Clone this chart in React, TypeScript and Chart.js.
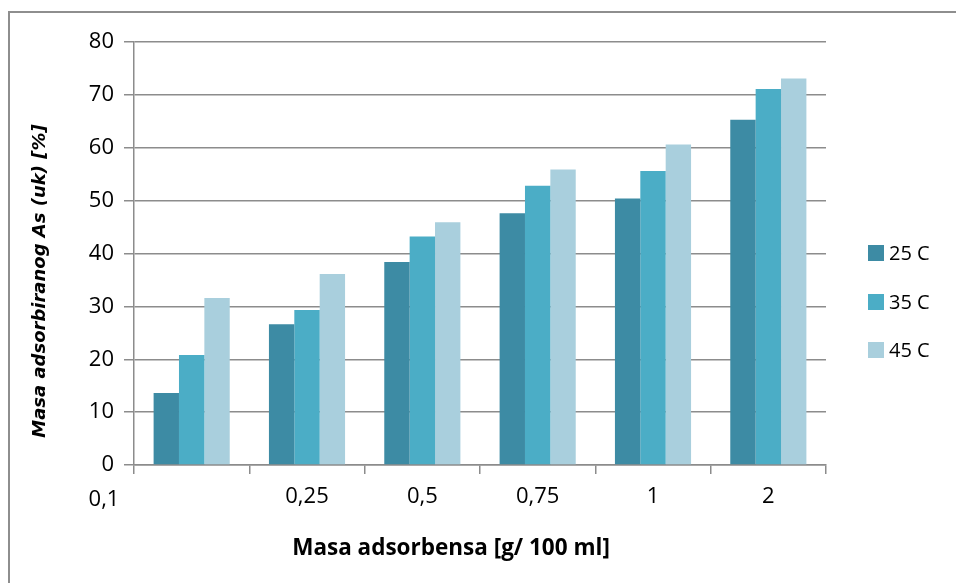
import React, { useEffect, useRef } from "react";
import { Chart, registerables } from "chart.js";

Chart.register(...registerables);

const categories = ["0,1", "0,25", "0,5", "0,75", "1", "2"];
const seriesNames = ["25 C", "35 C", "45 C"];
const values25 = [13.6, 26.6, 38.4, 47.6, 50.4, 65.3];
const values35 = [20.8, 29.3, 43.2, 52.8, 55.6, 71.1];
const values45 = [31.6, 36.1, 45.9, 55.9, 60.6, 73.1];
const seriesColors = ["#3d8ba4", "#4badc6", "#a9cfdd"];
const yMin = 0;
const yMax = 80;
const yStep = 10;
const xTitle = "Masa adsorbensa [g/ 100 ml]";
const yTitle = "Masa adsorbiranog As (uk) [%]";

const FONT = "'Open Sans', Lato, sans-serif";
const GRID = "#8c8c8c";

export default function App() {
  const ref = useRef<HTMLCanvasElement | null>(null);

  useEffect(() => {
    if (!ref.current) return;
    const decor = {
      id: "decor",
      beforeDraw(chart: any) {
        const ctx = chart.ctx;
        ctx.save();
        ctx.fillStyle = "#ffffff";
        ctx.fillRect(0, 0, chart.width, chart.height);
        ctx.strokeStyle = "#8e8e8e";
        ctx.lineWidth = 2;
        ctx.beginPath();
        ctx.moveTo(9, chart.height);
        ctx.lineTo(9, 12);
        ctx.lineTo(chart.width, 12);
        ctx.stroke();
        ctx.restore();
      },
      afterDraw(chart: any) {
        const ctx = chart.ctx;
        const area = chart.chartArea;
        const xs = chart.scales.x;
        ctx.save();
        // first category label sits left of the axis origin
        ctx.fillStyle = "#000";
        ctx.font = `22px ${FONT}`;
        ctx.textAlign = "center";
        ctx.textBaseline = "middle";
        ctx.fillText(categories[0], xs.left - 30, 500);
        // x title
        ctx.font = `bold 22.5px ${FONT}`;
        ctx.fillText(xTitle, (area.left + area.right) / 2 - 29, 549);
        // y title
        ctx.save();
        ctx.translate(40, 281);
        ctx.rotate(-Math.PI / 2);
        ctx.font = `oblique bold 18px 'DejaVu Sans', sans-serif`;
        ctx.fillText(yTitle, 0, 0);
        ctx.restore();
        // legend
        const rows = [253, 302, 350];
        ctx.font = `20px ${FONT}`;
        ctx.textAlign = "left";
        seriesNames.forEach((name, i) => {
          ctx.fillStyle = seriesColors[i];
          ctx.fillRect(868, rows[i] - 8, 16, 16);
          ctx.fillStyle = "#000";
          ctx.fillText(name, 889, rows[i] + 1);
        });
        ctx.restore();
      },
    };

    const chart = new Chart(ref.current, {
      type: "bar",
      data: {
        labels: categories,
        datasets: [
          { label: seriesNames[0], data: values25, backgroundColor: seriesColors[0] },
          { label: seriesNames[1], data: values35, backgroundColor: seriesColors[1] },
          { label: seriesNames[2], data: values45, backgroundColor: seriesColors[2] },
        ],
      },
      options: {
        responsive: false,
        animation: false,
        devicePixelRatio: 1,
        layout: { padding: { left: 0, top: 42, right: 130, bottom: 0 } },
        datasets: { bar: { barPercentage: 1, categoryPercentage: 0.66 } },
        plugins: {
          legend: { display: false },
          tooltip: { enabled: false },
          title: { display: false },
        },
        scales: {
          x: {
            offset: true,
            grid: {
              offset: true,
              drawOnChartArea: false,
              drawTicks: true,
              tickLength: 9,
              color: GRID,
              lineWidth: 1.5,
            },
            border: { color: GRID, width: 1.5 },
            ticks: {
              color: "#000",
              font: { family: FONT, size: 22 },
              padding: 10,
              maxRotation: 0,
              autoSkip: false,
              callback: (_v: any, i: number) => (i === 0 ? "" : categories[i]),
            },
            afterFit: (s: any) => {
              s.height = 583 - 465;
            },
          },
          y: {
            min: yMin,
            max: yMax,
            grid: { color: GRID, lineWidth: 1.5, tickLength: 10, drawTicks: true },
            border: { color: GRID, width: 1.5 },
            ticks: {
              stepSize: yStep,
              color: "#000",
              font: { family: FONT, size: 22 },
              padding: 10,
            },
            afterFit: (s: any) => {
              s.width = 134;
            },
          },
        },
      },
      plugins: [decor],
    });
    return () => chart.destroy();
  }, []);

  return (
    <div style={{ position: "fixed", left: 0, top: 0, width: 956, height: 583 }}>
      <canvas ref={ref} width={956} height={583} style={{ display: "block" }} />
    </div>
  );
}
